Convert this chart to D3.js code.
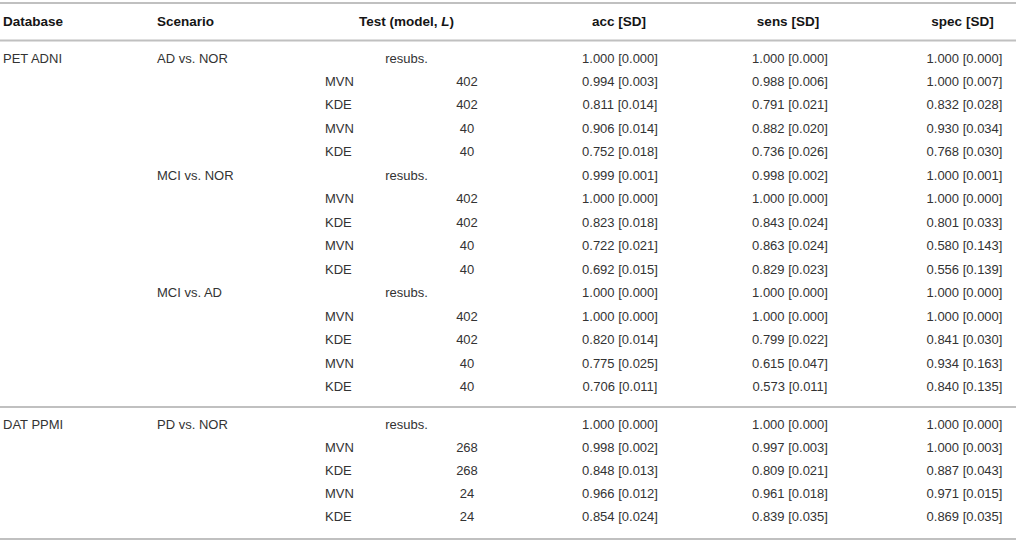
<!DOCTYPE html>
<html>
<head>
<meta charset="utf-8">
<script src="https://cdn.jsdelivr.net/npm/d3@7"></script>
<style>
  html, body { margin: 0; padding: 0; background: #fff; }
  svg { display: block; }
</style>
</head>
<body>
<svg id="chart" width="1016" height="542"></svg>
<script>
// ---- data ----
const headers = ["Database", "Scenario", "Test (model, ", "acc [SD]", "sens [SD]", "spec [SD]"];
const databases = ["PET ADNI", "DAT PPMI"];
const dbRowCounts = [15, 5];
const scenarios = ["AD vs. NOR", "MCI vs. NOR", "MCI vs. AD", "PD vs. NOR"];
const testModels = ["resubs.", "MVN", "KDE", "MVN", "KDE"];
const lValuesByScenario = [
  ["", "402", "402", "40", "40"],
  ["", "402", "402", "40", "40"],
  ["", "402", "402", "40", "40"],
  ["", "268", "268", "24", "24"]
];
const accVals = [1.000, 0.994, 0.811, 0.906, 0.752, 0.999, 1.000, 0.823, 0.722, 0.692, 1.000, 1.000, 0.820, 0.775, 0.706, 1.000, 0.998, 0.848, 0.966, 0.854];
const accSD   = [0.000, 0.003, 0.014, 0.014, 0.018, 0.001, 0.000, 0.018, 0.021, 0.015, 0.000, 0.000, 0.014, 0.025, 0.011, 0.000, 0.002, 0.013, 0.012, 0.024];
const sensVals = [1.000, 0.988, 0.791, 0.882, 0.736, 0.998, 1.000, 0.843, 0.863, 0.829, 1.000, 1.000, 0.799, 0.615, 0.573, 1.000, 0.997, 0.809, 0.961, 0.839];
const sensSD   = [0.000, 0.006, 0.021, 0.020, 0.026, 0.002, 0.000, 0.024, 0.024, 0.023, 0.000, 0.000, 0.022, 0.047, 0.011, 0.000, 0.003, 0.021, 0.018, 0.035];
const specVals = [1.000, 1.000, 0.832, 0.930, 0.768, 1.000, 1.000, 0.801, 0.580, 0.556, 1.000, 1.000, 0.841, 0.934, 0.840, 1.000, 1.000, 0.887, 0.971, 0.869];
const specSD   = [0.000, 0.007, 0.028, 0.034, 0.030, 0.001, 0.000, 0.033, 0.143, 0.139, 0.000, 0.000, 0.030, 0.163, 0.135, 0.000, 0.003, 0.043, 0.015, 0.035];

// ---- build rows ----
const f3 = d3.format(".3f");
const rows = [];
let idx = 0;
databases.forEach((db, di) => {
  for (let k = 0; k < dbRowCounts[di]; k++) {
    const si = Math.floor(idx / 5);
    const ti = idx % 5;
    rows.push({
      group: di,
      local: k,
      db: k === 0 ? db : "",
      scenario: ti === 0 ? scenarios[si] : "",
      model: testModels[ti],
      L: lValuesByScenario[si][ti],
      acc: f3(accVals[idx]) + " [" + f3(accSD[idx]) + "]",
      sens: f3(sensVals[idx]) + " [" + f3(sensSD[idx]) + "]",
      spec: f3(specVals[idx]) + " [" + f3(specSD[idx]) + "]"
    });
    idx++;
  }
});

// ---- layout ----
const svg = d3.select("#chart");
const W = 1016;
const yGroup = [
  d3.scaleLinear().domain([0, 14]).range([58, 386.5]),
  d3.scaleLinear().domain([0, 4]).range([424.5, 516.5])
];
const x = {
  db: 3, scenario: 157, testCenter: 406.5, model: 325, L: 467,
  acc: 620, sens: 790, spec: 964.5
};
const lineColor = "#c0c0c0";
const bodyColor = "#333";
const headColor = "#151515";
const font = "'Liberation Sans', Arial, Helvetica, sans-serif";

// horizontal rules
const rules = [3, 40.5, 407, 539];
svg.selectAll("line.rule").data(rules).join("line")
  .attr("class", "rule")
  .attr("x1", 0).attr("x2", W)
  .attr("y1", d => d).attr("y2", d => d)
  .attr("stroke", lineColor).attr("stroke-width", 2);

// header
const hy = 21;
const head = svg.append("g")
  .attr("font-family", font).attr("font-size", 13.5).attr("font-weight", "bold")
  .attr("fill", headColor).attr("dominant-baseline", "central");
head.append("text").attr("x", x.db).attr("y", hy).text(headers[0]);
head.append("text").attr("x", x.scenario).attr("y", hy).text(headers[1]);
const th = head.append("text").attr("x", x.testCenter).attr("y", hy).attr("text-anchor", "middle");
th.append("tspan").text(headers[2]);
th.append("tspan").attr("font-style", "italic").text("L");
th.append("tspan").text(")");
head.append("text").attr("x", x.acc - 1).attr("y", hy).attr("text-anchor", "middle").text(headers[3]);
head.append("text").attr("x", x.sens - 2).attr("y", hy).attr("text-anchor", "middle").text(headers[4]);
head.append("text").attr("x", x.spec - 2).attr("y", hy).attr("text-anchor", "middle").text(headers[5]);

// body
const body = svg.append("g")
  .attr("font-family", font).attr("font-size", 13)
  .attr("fill", bodyColor).attr("dominant-baseline", "central");
const rowG = body.selectAll("g.row").data(rows).join("g")
  .attr("class", "row")
  .attr("transform", d => `translate(0,${yGroup[d.group](d.local)})`);

rowG.append("text").attr("x", x.db).text(d => d.db);
rowG.append("text").attr("x", x.scenario).text(d => d.scenario);
rowG.append("text")
  .attr("x", d => d.model === "resubs." ? x.testCenter : x.model)
  .attr("text-anchor", d => d.model === "resubs." ? "middle" : "start")
  .text(d => d.model);
rowG.append("text").attr("x", x.L).attr("text-anchor", "middle").text(d => d.L);
rowG.append("text").attr("x", x.acc).attr("text-anchor", "middle").text(d => d.acc);
rowG.append("text").attr("x", x.sens).attr("text-anchor", "middle").text(d => d.sens);
rowG.append("text").attr("x", x.spec).attr("text-anchor", "middle").text(d => d.spec);
</script>
</body>
</html>
